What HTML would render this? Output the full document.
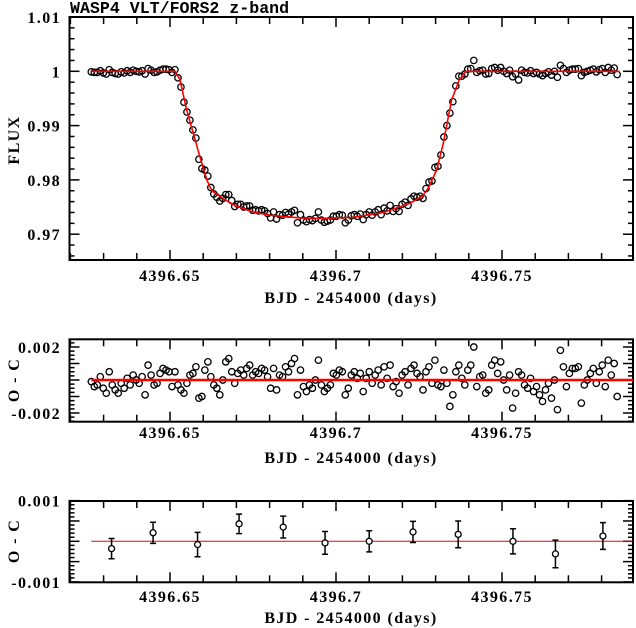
<!DOCTYPE html>
<html><head><meta charset="utf-8">
<style>
html,body{margin:0;padding:0;background:#fff;}
svg{display:block;}
text{font-family:"Liberation Serif",serif;font-size:16px;font-weight:bold;letter-spacing:1.4px;fill:#000;}
</style></head>
<body>
<svg id="chart" width="636" height="628" viewBox="0 0 636 628" xmlns="http://www.w3.org/2000/svg">
<text x="70" y="13" style="font-family:'Liberation Mono',monospace;font-size:16.6px;font-weight:bold;letter-spacing:0">WASP4 VLT/FORS2 z-band</text>
</svg>
<script>
const bjd = [4396.6263,4396.6272,4396.6281,4396.6290,4396.6299,4396.6308,4396.6317,4396.6326,4396.6335,4396.6344,
4396.6353,4396.6362,4396.6371,4396.6380,4396.6389,4396.6398,4396.6407,4396.6416,4396.6425,4396.6434,
4396.6443,4396.6452,4396.6461,4396.6470,4396.6479,4396.6488,4396.6497,4396.6506,4396.6515,4396.6524,
4396.6533,4396.6542,4396.6551,4396.6560,4396.6569,4396.6578,4396.6587,4396.6596,4396.6605,4396.6614,
4396.6623,4396.6632,4396.6641,4396.6650,4396.6659,4396.6668,4396.6677,4396.6686,4396.6695,4396.6704,
4396.6713,4396.6722,4396.6731,4396.6740,4396.6749,4396.6758,4396.6767,4396.6776,4396.6785,4396.6794,
4396.6803,4396.6812,4396.6821,4396.6830,4396.6839,4396.6848,4396.6857,4396.6866,4396.6875,4396.6884,
4396.6893,4396.6902,4396.6911,4396.6920,4396.6929,4396.6938,4396.6947,4396.6956,4396.6965,4396.6974,
4396.6983,4396.6992,4396.7001,4396.7010,4396.7019,4396.7028,4396.7037,4396.7046,4396.7055,4396.7064,
4396.7073,4396.7082,4396.7091,4396.7100,4396.7109,4396.7118,4396.7127,4396.7136,4396.7145,4396.7154,
4396.7163,4396.7172,4396.7181,4396.7190,4396.7199,4396.7208,4396.7217,4396.7226,4396.7235,4396.7244,
4396.7253,4396.7262,4396.7271,4396.7280,4396.7289,4396.7298,4396.7307,4396.7316,4396.7325,4396.7334,
4396.7343,4396.7352,4396.7361,4396.7370,4396.7379,4396.7388,4396.7397,4396.7406,4396.7415,4396.7424,
4396.7433,4396.7442,4396.7451,4396.7460,4396.7469,4396.7478,4396.7487,4396.7496,4396.7505,4396.7514,
4396.7523,4396.7532,4396.7541,4396.7550,4396.7559,4396.7568,4396.7577,4396.7586,4396.7595,4396.7604,
4396.7613,4396.7622,4396.7631,4396.7640,4396.7649,4396.7658,4396.7667,4396.7676,4396.7685,4396.7694,
4396.7703,4396.7712,4396.7721,4396.7730,4396.7739,4396.7748,4396.7757,4396.7766,4396.7775,4396.7784,
4396.7793,4396.7802,4396.7811,4396.7820,4396.7829,4396.7838,4396.7847];
const flux = [.9999,.9998,.9998,1.0001,.9997,.9995,1.0003,.9998,.9996,.9995,
.9999,.9997,1.0001,.9998,1.0002,1.0000,.9999,1.0001,.9995,1.0005,
1.0002,.9998,.9999,1.0002,1.0004,1.0004,1.0003,.9998,1.0003,.9988,
.9971,.9943,.9925,.9910,.9892,.9877,.9838,.9821,.9818,.9807,
.9786,.9774,.9768,.9761,.9766,.9773,.9773,.9762,.9751,.9755,
.9755,.9750,.9752,.9752,.9744,.9745,.9743,.9745,.9743,.9738,
.9730,.9741,.9728,.9736,.9735,.9740,.9737,.9741,.9744,.9721,
.9736,.9726,.9723,.9727,.9725,.9729,.9741,.9726,.9722,.9724,
.9726,.9733,.9733,.9736,.9735,.9721,.9726,.9734,.9736,.9733,
.9737,.9727,.9736,.9741,.9735,.9741,.9745,.9736,.9748,.9743,
.9753,.9742,.9747,.9742,.9755,.9759,.9753,.9765,.9770,.9768,
.9770,.9766,.9784,.9796,.9798,.9823,.9825,.9846,.9879,.9900,
.9923,.9944,.9973,.9991,.9991,.9995,1.0004,1.0005,1.0020,.9998,
1.0001,1.0002,.9995,.9996,1.0005,1.0007,1.0002,1.0007,1.0000,.9996,
1.0002,.9990,.9995,.9984,1.0002,.9998,.9997,1.0001,.9996,.9998,
.9995,.9992,.9996,.9999,.9993,1.0000,.9989,1.0011,1.0005,.9998,
1.0002,1.0004,1.0004,1.0005,.9992,.9998,1.0000,1.0002,1.0004,.9999,
1.0003,1.0005,.9998,1.0007,1.0002,1.0006,.9994];
// residuals in parts per thousand (x 0.001 flux)
const residPpt = [-0.1,-0.4,-0.3,0.2,-0.5,-0.8,0.5,-0.3,-0.6,-0.8,
-0.2,-0.5,0.1,-0.3,0.3,0.0,-0.2,0.2,-0.9,0.9,
0.3,-0.3,-0.2,0.4,0.7,0.6,0.5,-0.4,0.5,-0.3,
-0.6,-0.8,-0.2,0.3,0.4,0.8,-1.1,-1.0,0.6,1.1,
0.2,-0.3,-0.5,-0.9,0.0,1.1,1.3,0.5,-0.2,0.4,
0.6,0.3,0.7,0.9,0.3,0.5,0.4,0.7,0.6,0.2,
-0.5,0.7,-0.6,0.3,0.2,0.8,0.5,1.0,1.3,-0.9,
0.6,-0.4,-0.7,-0.3,-0.5,0.0,1.2,-0.3,-0.7,-0.5,
-0.3,0.4,0.3,0.6,0.5,-0.9,-0.5,0.3,0.5,0.1,
0.4,-0.7,0.1,0.5,-0.2,0.3,0.6,-0.3,0.8,0.1,
0.9,-0.4,-0.1,-0.8,0.3,0.5,-0.3,0.7,0.9,0.4,
0.2,-0.6,0.5,0.8,-0.2,1.2,-0.3,-0.4,0.6,-0.2,
-1.6,-0.9,0.5,0.9,0.1,-0.3,0.6,0.9,2.0,-0.4,
0.2,0.3,-0.8,-0.6,0.9,1.2,0.4,1.1,0.0,-0.6,
0.3,-1.7,-0.8,0.5,0.3,-0.3,-0.5,0.1,-0.7,-0.4,
-0.9,-1.3,-0.6,-0.2,-1.1,0.0,-1.8,1.8,0.8,-0.4,
0.4,0.7,0.7,0.8,-1.4,-0.3,0.0,0.4,0.7,-0.2,
0.5,0.9,-0.4,1.2,0.3,1.0,-1.0];
const modelT = [4396.6263,4396.6515,4396.6530,4396.6550,4396.6570,4396.6590,4396.6611,4396.6622,4396.6630,4396.6666,4396.6699,4396.6750,4396.6801,4396.6892,4396.6952,4396.7050,4396.7143,4396.7223,4396.7260,4396.7278,4396.7303,4396.7323,4396.7348,4396.7371,4396.7391,4396.7854];
const modelF = [1,1,.9985,.9929,.9886,.9843,.9800,.9785,.9778,.9763,.9752,.9741,.9735,.9730,.9729,.9731,.9740,.9757,.9770,.9785,.9818,.9867,.9947,.9984,1,1];
const binT = [4396.6324,4396.6449,4396.6583,4396.6708,4396.6841,4396.6967,4396.7100,4396.7232,4396.7368,4396.7533,4396.7661,4396.7804];
const binR = [-0.00018,0.00021,-0.00008,0.00043,0.00035,-0.00004,0.00000,0.00023,0.00017,0.00000,-0.00031,0.00013];
const binErr = [0.00025,0.00026,0.00030,0.00024,0.00027,0.00028,0.00026,0.00026,0.00033,0.00031,0.00034,0.00033];
const xTickLabels = ["4396.65","4396.7","4396.75"];
const xTickVals = [4396.65,4396.70,4396.75];
const fluxTickLabels = ["1.01","1","0.99","0.98","0.97"];
const fluxTickVals = [1.01,1.00,0.99,0.98,0.97];
const ocTickLabels = ["0.002","-0.002"];
const ocTickVals = [0.002,-0.002];
const binTickLabels = ["0.001","-0.001"];
const binTickVals = [0.001,-0.001];

const svg = document.getElementById('chart');
const NS = 'http://www.w3.org/2000/svg';
function mk(tag, attrs, parent){const e=document.createElementNS(NS,tag);for(const k in attrs)e.setAttribute(k,attrs[k]);(parent||svg).appendChild(e);return e;}
const L=69.5,R=633;
function xs(t){return 170+(t-4396.65)*3320;}
const T0=4396.65-(170-L)/3320, T1=4396.65+(R-170)/3320;

function panel(name, top, bottom, ys, yMin, yMax, yMinor, yMajor, yLabVals, yLabs, ytitle, ytitleY, labY, titleY){
  const g=mk('g',{});
  
  
  for(let k=Math.ceil((T0)/0.01-1e-6);k*0.01<=T1;k++){
    const t=k*0.01, x=xs(t);
    const major=Math.abs(Math.round(t/0.05)*0.05-t)<1e-6;
    const len=major?10:7;
    mk('line',{x1:x,y1:bottom,x2:x,y2:bottom-len,stroke:'#000','stroke-width':1.5},g);
    mk('line',{x1:x,y1:top,x2:x,y2:top+len,stroke:'#000','stroke-width':1.5},g);
  }
  const n0=Math.ceil(yMin/yMinor-1e-6), n1=Math.floor(yMax/yMinor+1e-6);
  for(let k=n0;k<=n1;k++){
    const v=k*yMinor, y=ys(v);
    const major=Math.abs(Math.round(v/yMajor)*yMajor-v)<yMinor*0.01;
    const len=major?10:5;
    mk('line',{x1:L,y1:y,x2:L+len,y2:y,stroke:'#000','stroke-width':1.5},g);
    mk('line',{x1:R,y1:y,x2:R-len,y2:y,stroke:'#000','stroke-width':1.5},g);
  }
  mk('rect',{x:L,y:top,width:R-L,height:bottom-top,fill:'none',stroke:'#000','stroke-width':2},g);
  xTickVals.forEach((v,i)=>{
    const t=mk('text',{x:xs(v),y:labY,'text-anchor':'middle'},g);
    t.textContent=xTickLabels[i];
    
    
  });
  yLabVals.forEach((v,i)=>{
    const t=mk('text',{x:61,y:ys(v)+6,'text-anchor':'end'},g);
    t.textContent=yLabs[i];
    
    
  });
  const xt=mk('text',{x:351,y:titleY,'text-anchor':'middle'},g);
  xt.textContent='BJD - 2454000 (days)';
  
  
  const yt=mk('text',{x:19,y:ytitleY,'text-anchor':'middle',transform:'rotate(-90 19 '+ytitleY+')'},g);
  yt.textContent=ytitle;
  
  
  return g;
}

const ys1=f=>71.3+(1-f)*5430;
const g1=panel('flux-panel',17,260,ys1,0.9653,1.0102,0.002,0.01,fluxTickVals,fluxTickLabels,'FLUX',140,281,303);
bjd.forEach((t,i)=>{
  const c=mk('circle',{cx:xs(t),cy:ys1(flux[i]),r:3.2,fill:'none',stroke:'#000','stroke-width':1.3},g1);
  
  
});
const mp=mk('polyline',{points:modelT.map((t,i)=>xs(t)+','+ys1(modelF[i])).join(' '),fill:'none',stroke:'#f00','stroke-width':1.6},g1);



const ys2=r=>380-r*16500;
const g2=panel('residual-panel',339.3,421.7,ys2,-0.00253,0.00247,0.00025,0.001,ocTickVals,ocTickLabels,'O - C',380,438,463);
bjd.forEach((t,i)=>{
  const c=mk('circle',{cx:xs(t),cy:ys2(residPpt[i]*0.001),r:3.2,fill:'none',stroke:'#000','stroke-width':1.3},g2);
  
  
});
const zl=mk('line',{x1:xs(modelT[0]),y1:ys2(0),x2:R,y2:ys2(0),stroke:'#f00','stroke-width':2.5},g2);



const ys3=r=>541.3-r*40650;
const g3=panel('binned-residual-panel',501,582.3,ys3,-0.001,0.001,0.0001,0.0005,binTickVals,binTickLabels,'O - C',541,602,623);
const zl3=mk('line',{x1:xs(modelT[0]),y1:ys3(0),x2:R,y2:ys3(0),stroke:'#e00','stroke-width':1},g3);


binT.forEach((t,i)=>{
  const x=xs(t), y=ys3(binR[i]), yt=ys3(binR[i]+binErr[i]), yb=ys3(binR[i]-binErr[i]);
  const eb=mk('path',{d:`M${x},${yt}V${yb}M${x-3},${yt}H${x+3}M${x-3},${yb}H${x+3}`,stroke:'#000','stroke-width':1.5,fill:'none'},g3);
  
  
  const c=mk('circle',{cx:x,cy:y,r:3,fill:'#fff',stroke:'#000','stroke-width':1.3},g3);
  
  
});
</script>
</body></html>
